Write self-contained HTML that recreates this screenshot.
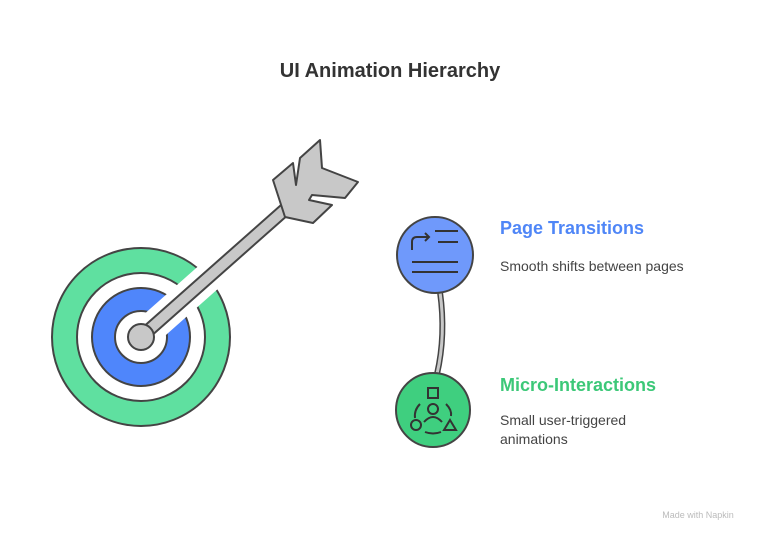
<!DOCTYPE html>
<html><head><meta charset="utf-8"><style>
body{margin:0;background:#fff;width:780px;height:545px;overflow:hidden;font-family:"Liberation Sans",sans-serif}
</style></head><body>
<svg width="780" height="545" viewBox="0 0 780 545" xmlns="http://www.w3.org/2000/svg">
<text x="390" y="77" text-anchor="middle" font-family="Liberation Sans" font-weight="bold" font-size="20" fill="#333">UI Animation Hierarchy</text>
<defs><mask id="m"><rect width="780" height="545" fill="#fff"/><line x1="141" y1="337" x2="300" y2="196" stroke="#000" stroke-width="30"/></mask></defs>
<g mask="url(#m)">
<circle cx="141" cy="337" r="76.5" fill="none" stroke="#444" stroke-width="27"/>
<circle cx="141" cy="337" r="76.5" fill="none" stroke="#5fe0a0" stroke-width="23"/>
<circle cx="141" cy="337" r="37.5" fill="none" stroke="#444" stroke-width="25"/>
<circle cx="141" cy="337" r="37.5" fill="none" stroke="#4f86fb" stroke-width="21"/>
</g>
<line x1="141" y1="337" x2="298" y2="198" stroke="#444" stroke-width="14"/>
<line x1="141" y1="337" x2="298" y2="198" stroke="#c8c8c8" stroke-width="10"/>
<circle cx="141" cy="337" r="13" fill="#c8c8c8" stroke="#444" stroke-width="2"/>
<polygon points="273,180 293,163 296,185 300,158 320,140 322,168 358,182 345,198 312,195 309,200 332,205 313,223 285,217" fill="#c8c8c8" stroke="#444" stroke-width="2" stroke-linejoin="round"/>
<path d="M440 292 Q446 335 437 374" fill="none" stroke="#444" stroke-width="6"/>
<path d="M440 292 Q446 335 437 374" fill="none" stroke="#c8c8c8" stroke-width="3"/>
<circle cx="435" cy="255" r="38" fill="#6f99fb" stroke="#444" stroke-width="2"/>
<g stroke="#333" stroke-width="2" fill="none">
<path d="M412 250 v-8 q0-5 5-5 h12"/><path d="M425 233 l4 4 -4 4"/>
<line x1="435" y1="231" x2="458" y2="231"/><line x1="438" y1="242" x2="458" y2="242"/>
<line x1="412" y1="262" x2="458" y2="262"/><line x1="412" y1="272" x2="458" y2="272"/>
</g>
<circle cx="433" cy="410" r="37" fill="#3fcf7f" stroke="#444" stroke-width="2"/>
<g stroke="#333" stroke-width="2" fill="none">
<rect x="428" y="388" width="10" height="10"/>
<circle cx="433" cy="409" r="5"/><path d="M424 422 q9-10 18 0"/>
<circle cx="416" cy="425" r="5"/><path d="M450 420 l6 10 h-12 z"/>
<path d="M420 404 q-6 6 -5 14"/><path d="M446 404 q6 6 5 12"/><path d="M425 432 q8 3 16 0"/>
</g>
<text x="500" y="234" font-family="Liberation Sans" font-weight="bold" font-size="18" fill="#4f86f7">Page Transitions</text>
<text x="500" y="271" font-family="Liberation Sans" font-size="14" fill="#444">Smooth shifts between pages</text>
<text x="500" y="391" font-family="Liberation Sans" font-weight="bold" font-size="18" fill="#3cc878">Micro-Interactions</text>
<text x="500" y="425" font-family="Liberation Sans" font-size="14" fill="#444">Small user-triggered</text>
<text x="500" y="444" font-family="Liberation Sans" font-size="14" fill="#444">animations</text>
<text x="698" y="518" text-anchor="middle" font-family="Liberation Sans" font-size="9" fill="#bbb">Made with Napkin</text>
</svg>
</body></html>
